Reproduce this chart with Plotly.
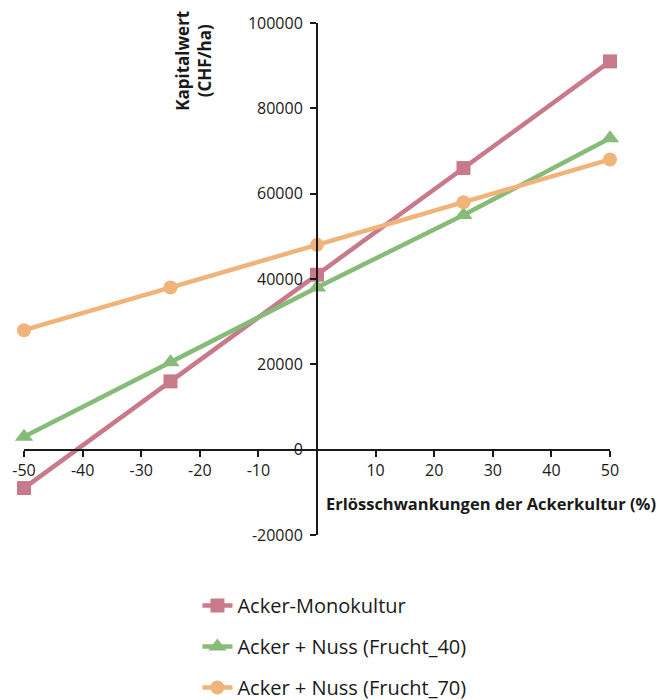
import plotly.graph_objects as go

x_vals = [-50, -25, 0, 25, 50]
mono = [-9000, 16000, 41000, 66000, 91000]
nuss40 = [3000, 20500, 38000, 55000, 73000]
nuss70 = [28000, 38000, 48000, 58000, 68000]
names = ["Acker-Monokultur", "Acker + Nuss (Frucht_40)", "Acker + Nuss (Frucht_70)"]
x_ticks = [-50, -40, -30, -20, -10, 10, 20, 30, 40, 50]
y_ticks = [-20000, 0, 20000, 40000, 60000, 80000, 100000]

colors = ["#C87A8B", "#86BC78", "#F0B47A"]
symbols = ["square", "triangle-up", "circle"]
sizes = [14, 16, 14]

fig = go.Figure()
for i, ys in enumerate([mono, nuss40, nuss70]):
    fig.add_trace(go.Scatter(
        x=x_vals, y=ys, name=names[i], mode="lines+markers",
        line=dict(color=colors[i], width=4.5),
        marker=dict(symbol=symbols[i], size=sizes[i], color=colors[i]),
        cliponaxis=False, legendgroup=str(i),
    ))

font = "Open Sans"
fig.update_layout(
    width=661, height=700,
    margin=dict(l=16, r=51, t=19, b=165),
    plot_bgcolor="white", paper_bgcolor="white",
    font=dict(family=font, size=16, color="#1a1a1a"),
    showlegend=True,
    legend=dict(x=0.296, y=1 - 586 / 700, xref="paper", yref="container",
                xanchor="left", yanchor="top",
                font=dict(size=20, color="#1a1a1a"), tracegroupgap=12,
                itemwidth=30, bgcolor="rgba(0,0,0,0)"),
    xaxis=dict(range=[-50, 50], tickvals=x_ticks, ticktext=[str(v) for v in x_ticks],
               showgrid=False, zeroline=False, showline=True, linecolor="#1a1a1a",
               linewidth=2, ticks="outside", ticklen=6, tickwidth=1.5, tickcolor="#1a1a1a",
               anchor="free", position=20000 / 120000, domain=[0, 1],
               tickfont=dict(size=16)),
    yaxis=dict(range=[-20000, 100000], tickvals=y_ticks, ticktext=[str(v) for v in y_ticks],
               showgrid=False, zeroline=False, showline=True, linecolor="#1a1a1a",
               linewidth=2, ticks="outside", ticklen=6, tickwidth=1.5, tickcolor="#1a1a1a",
               anchor="free", position=0.5, domain=[0, 1],
               ticklabelstandoff=4, tickfont=dict(size=16)),
)

fig.add_annotation(text="<b>Kapitalwert<br>(CHF/ha)</b>",
                   xref="paper", yref="paper", x=(187 - 16) / 594, y=1.0 + 14 / 516,
                   xanchor="center", yanchor="top", showarrow=False, textangle=-90,
                   font=dict(size=17, family=font))
fig.add_annotation(text="<b>Erlösschwankungen der Ackerkultur (%)</b>",
                   xref="paper", yref="paper", x=1.082, y=(20000 - 12560) / 120000,
                   xanchor="right", yanchor="middle", showarrow=False,
                   font=dict(size=16.5, family=font))

fig.write_html("out.html")
